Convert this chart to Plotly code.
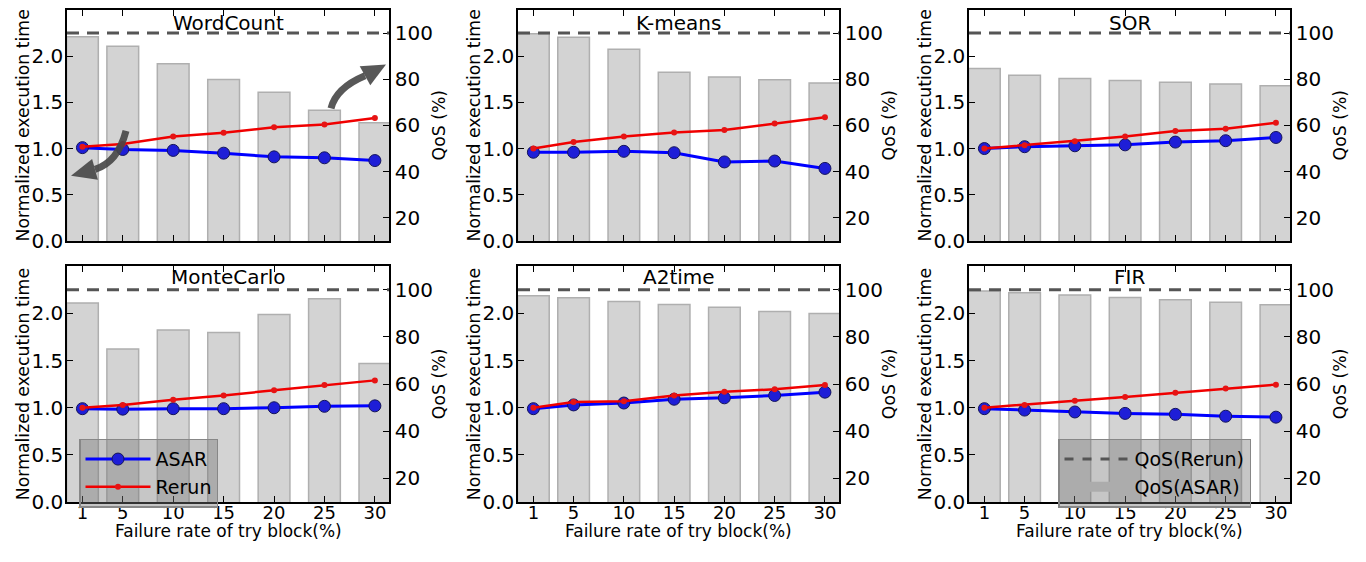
import plotly.graph_objects as go

# ---------------- data ----------------
FAILURE_RATE = [1, 5, 10, 15, 20, 25, 30]
TICK_LABELS = ["1", "5", "10", "15", "20", "25", "30"]
BENCHMARKS = ["WordCount", "K-means", "SOR", "MonteCarlo", "A2time", "FIR"]

WC_ASAR = [1.01, 0.99, 0.98, 0.95, 0.91, 0.90, 0.87]
WC_RERUN = [1.02, 1.05, 1.13, 1.17, 1.23, 1.26, 1.33]
WC_QOS = [98.4, 94.3, 86.7, 79.9, 74.4, 66.6, 61.2]

KM_ASAR = [0.96, 0.96, 0.97, 0.955, 0.855, 0.865, 0.785]
KM_RERUN = [1.0, 1.07, 1.13, 1.175, 1.2, 1.27, 1.34]
KM_QOS = [99.7, 98.2, 93.0, 83.0, 81.0, 79.8, 78.4]

SOR_ASAR = [1.0, 1.02, 1.03, 1.04, 1.07, 1.085, 1.12]
SOR_RERUN = [1.0, 1.035, 1.08, 1.13, 1.19, 1.215, 1.28]
SOR_QOS = [84.7, 81.7, 80.3, 79.5, 78.7, 78.0, 77.2]

MC_ASAR = [0.99, 0.985, 0.99, 0.99, 1.0, 1.015, 1.02]
MC_RERUN = [1.0, 1.03, 1.085, 1.13, 1.185, 1.24, 1.29]
MC_QOS = [94.4, 74.9, 83.0, 81.9, 89.5, 96.2, 68.8]

A2_ASAR = [0.99, 1.03, 1.05, 1.09, 1.105, 1.13, 1.165]
A2_RERUN = [1.0, 1.06, 1.07, 1.13, 1.17, 1.195, 1.24]
A2_QOS = [97.5, 96.6, 95.1, 93.8, 92.6, 90.8, 90.0]

FIR_ASAR = [0.99, 0.975, 0.955, 0.94, 0.93, 0.91, 0.90]
FIR_RERUN = [1.0, 1.03, 1.075, 1.115, 1.16, 1.205, 1.245]
FIR_QOS = [99.5, 98.8, 97.8, 96.7, 95.8, 94.7, 93.7]

QOS_RERUN = 100

TIME_TICKS = [0.0, 0.5, 1.0, 1.5, 2.0]
QOS_TICKS = [20, 40, 60, 80, 100]

ASAR_SERIES = [WC_ASAR, KM_ASAR, SOR_ASAR, MC_ASAR, A2_ASAR, FIR_ASAR]
RERUN_SERIES = [WC_RERUN, KM_RERUN, SOR_RERUN, MC_RERUN, A2_RERUN, FIR_RERUN]
QOS_SERIES = [WC_QOS, KM_QOS, SOR_QOS, MC_QOS, A2_QOS, FIR_QOS]

# ---------------- layout geometry ----------------
# The page body keeps its default 8px margin, so the figure is made 16px
# smaller than the window and target page positions are shifted by it.
PAGE_W, PAGE_H = 1366, 562
OFF = 8
W, H = PAGE_W - 2 * OFF, PAGE_H - 2 * OFF
COL_L = [67, 518, 969]
COL_R = [389, 839, 1290]
ROW_T = [8, 271]
ROW_B = [245, 513]


def fx(px):
    return min(1.0, max(0.0, (px - OFF) / W))


def fy(py):
    return min(1.0, max(0.0, 1 - (py - OFF) / H))


FONT = "DejaVu Sans"
HFONT = dict(family=FONT, size=20, color="black")
XFONT = dict(family=FONT, size=18, color="black")
XTFONT = dict(family=FONT, size=17, color="black")
VFONT = dict(family=FONT, size=17.3, color="black")
LFONT = dict(family=FONT, size=19, color="black")

BAR_FILL = "rgb(211,211,211)"
BAR_EDGE = "rgb(175,175,175)"
DASH_COLOR = "rgb(85,85,85)"

fig = go.Figure()

# legend-only entries (drawn like the reference's legend swatches)
fig.add_trace(go.Scatter(
    x=[None], y=[None], mode="lines", name="QoS(Rerun)",
    line=dict(color=DASH_COLOR, width=3, dash="dash"),
    legend="legend2", legendrank=1, xaxis="x6", yaxis="y6", hoverinfo="skip"))
fig.add_trace(go.Scatter(
    x=[None], y=[None], mode="lines", name="QoS(ASAR)",
    line=dict(color="rgb(172,172,172)", width=13),
    legend="legend2", legendrank=2, legendgroup="qos_asar",
    xaxis="x6", yaxis="y6", hoverinfo="skip"))

layout = {}
annotations = []
shapes = []

for i, bench in enumerate(BENCHMARKS):
    r, c = divmod(i, 3)
    n = i + 1
    xname = "x" if n == 1 else f"x{n}"
    yq = "y" if n == 1 else f"y{n}"
    yt = f"y{n + 6}"
    xkey = "xaxis" if n == 1 else f"xaxis{n}"
    yqkey = "yaxis" if n == 1 else f"yaxis{n}"
    ytkey = f"yaxis{n + 6}"

    xd = [fx(COL_L[c]), fx(COL_R[c])]
    yd = [fy(ROW_B[r]), fy(ROW_T[r])]

    fig.add_trace(go.Bar(
        x=FAILURE_RATE, y=QOS_SERIES[i], width=3.15, name="QoS(ASAR)",
        marker=dict(color=BAR_FILL, line=dict(color=BAR_EDGE, width=1.5)),
        xaxis=xname, yaxis=yq, legendgroup="qos_asar", showlegend=False))

    fig.add_trace(go.Scatter(
        x=FAILURE_RATE, y=ASAR_SERIES[i], mode="lines+markers", name="ASAR",
        line=dict(color="rgb(0,0,255)", width=3),
        marker=dict(size=12, color="rgb(30,30,215)", line=dict(color="rgb(20,20,90)", width=1)),
        xaxis=xname, yaxis=yt, legend="legend", legendrank=1,
        showlegend=(i == 0)))

    fig.add_trace(go.Scatter(
        x=FAILURE_RATE, y=RERUN_SERIES[i], mode="lines+markers", name="Rerun",
        line=dict(color="rgb(240,0,0)", width=2.5),
        marker=dict(size=6, color="rgb(230,20,20)"),
        xaxis=xname, yaxis=yt, legend="legend", legendrank=2,
        showlegend=(i == 0)))

    layout[xkey] = dict(
        domain=xd, anchor=yq, range=[-0.53, 31.4],
        tickmode="array", tickvals=FAILURE_RATE, ticktext=TICK_LABELS,
        showticklabels=(r == 1), ticks="inside", ticklen=6, tickwidth=1,
        tickcolor="black", showline=True, linecolor="black", linewidth=1.5,
        mirror="ticks", showgrid=False, zeroline=False, tickfont=XFONT,
        ticklabelstandoff=-6)
    layout[yqkey] = dict(
        domain=yd, anchor=xname, side="right", range=[10, 110],
        tickmode="array", tickvals=QOS_TICKS, ticks="inside", ticklen=6,
        tickcolor="black", showline=True, linecolor="black", linewidth=1.5,
        showgrid=False, zeroline=False, tickfont=HFONT)
    layout[ytkey] = dict(
        overlaying=yq, anchor=xname, side="left", range=[0, 2.5],
        tickmode="array", tickvals=TIME_TICKS, tickformat=".1f",
        ticks="inside", ticklen=6, tickcolor="black", showline=True,
        linecolor="black", linewidth=1.5, showgrid=False, zeroline=False,
        tickfont=HFONT, ticklabelstandoff=-2)

    # dashed QoS(Rerun) line across the panel
    shapes.append(dict(
        type="line", xref=f"{xname} domain", x0=0, x1=1, yref=yq,
        y0=QOS_RERUN, y1=QOS_RERUN,
        line=dict(color=DASH_COLOR, width=3, dash="12px,8px"), layer="above"))

    # panel title inside the plot
    if r == 0:
        annotations.append(dict(
            text=bench, xref="paper", yref="paper",
            x=fx((COL_L[c] + COL_R[c]) / 2), y=1.0, borderpad=0,
            xanchor="center", yanchor="top", showarrow=False, font=HFONT))
    else:
        annotations.append(dict(
            text=bench, xref="paper", yref="paper",
            x=fx((COL_L[c] + COL_R[c]) / 2), y=fy(282),
            xanchor="center", yanchor="middle", showarrow=False, font=HFONT))

    ymid = fy((ROW_T[r] + ROW_B[r]) / 2)
    annotations.append(dict(
        text="Normalized execution time", xref="paper", yref="paper",
        x=fx(COL_L[c] - 44), y=ymid, textangle=-90, showarrow=False,
        xanchor="center", yanchor="middle", font=VFONT))
    annotations.append(dict(
        text="QoS (%)", xref="paper", yref="paper",
        x=fx(COL_R[c] + 50), y=ymid, textangle=-90, showarrow=False,
        xanchor="center", yanchor="middle", font=VFONT))
    if r == 1:
        annotations.append(dict(
            text="Failure rate of try block(%)", xref="paper", yref="paper",
            x=fx((COL_L[c] + COL_R[c]) / 2), y=fy(543), showarrow=False,
            xanchor="center", yanchor="middle", font=XTFONT))


def P(px, py):
    return fx(px), fy(py)


def arrow(start, ctrl, base, tip, half):
    sx, sy = P(*start)
    cx, cy = P(*ctrl)
    bx, by = P(*base)
    shapes.append(dict(
        type="path", xref="paper", yref="paper",
        path=f"M {sx},{sy} Q {cx},{cy} {bx},{by}",
        line=dict(color="rgba(70,70,70,0.9)", width=7), layer="above"))
    dx, dy = tip[0] - base[0], tip[1] - base[1]
    L = (dx * dx + dy * dy) ** 0.5
    nx, ny = -dy / L, dx / L
    c1 = P(base[0] + half * nx, base[1] + half * ny)
    c2 = P(base[0] - half * nx, base[1] - half * ny)
    t = P(*tip)
    shapes.append(dict(
        type="path", xref="paper", yref="paper",
        path=f"M {c1[0]},{c1[1]} L {t[0]},{t[1]} L {c2[0]},{c2[1]} Z",
        fillcolor="rgba(70,70,70,0.9)", line=dict(width=0), layer="above"))


arrow((126.0, 132.0), (118.0, 164.0), (95.0, 171.5), (71.0, 178.0), 11)
arrow((331.0, 109.0), (336.0, 88.0), (365.0, 75.5), (386.0, 64.0), 11)

LEG = dict(
    xanchor="left", yanchor="top",
    bgcolor="rgba(120,120,120,0.42)", bordercolor="rgb(135,135,135)",
    borderwidth=1.5, font=LFONT, traceorder="normal", itemwidth=65,
    tracegroupgap=0)

fig.update_layout(
    width=W, height=H, margin=dict(l=0, r=0, t=0, b=0),
    paper_bgcolor="white", plot_bgcolor="white",
    font=dict(family=FONT, color="black"),
    showlegend=True, barmode="overlay",
    legend=dict(x=fx(79), y=fy(448), **LEG),
    legend2=dict(x=fx(1058), y=fy(448), **LEG),
    annotations=annotations, shapes=shapes,
    **layout)

fig.write_html("out.html")
